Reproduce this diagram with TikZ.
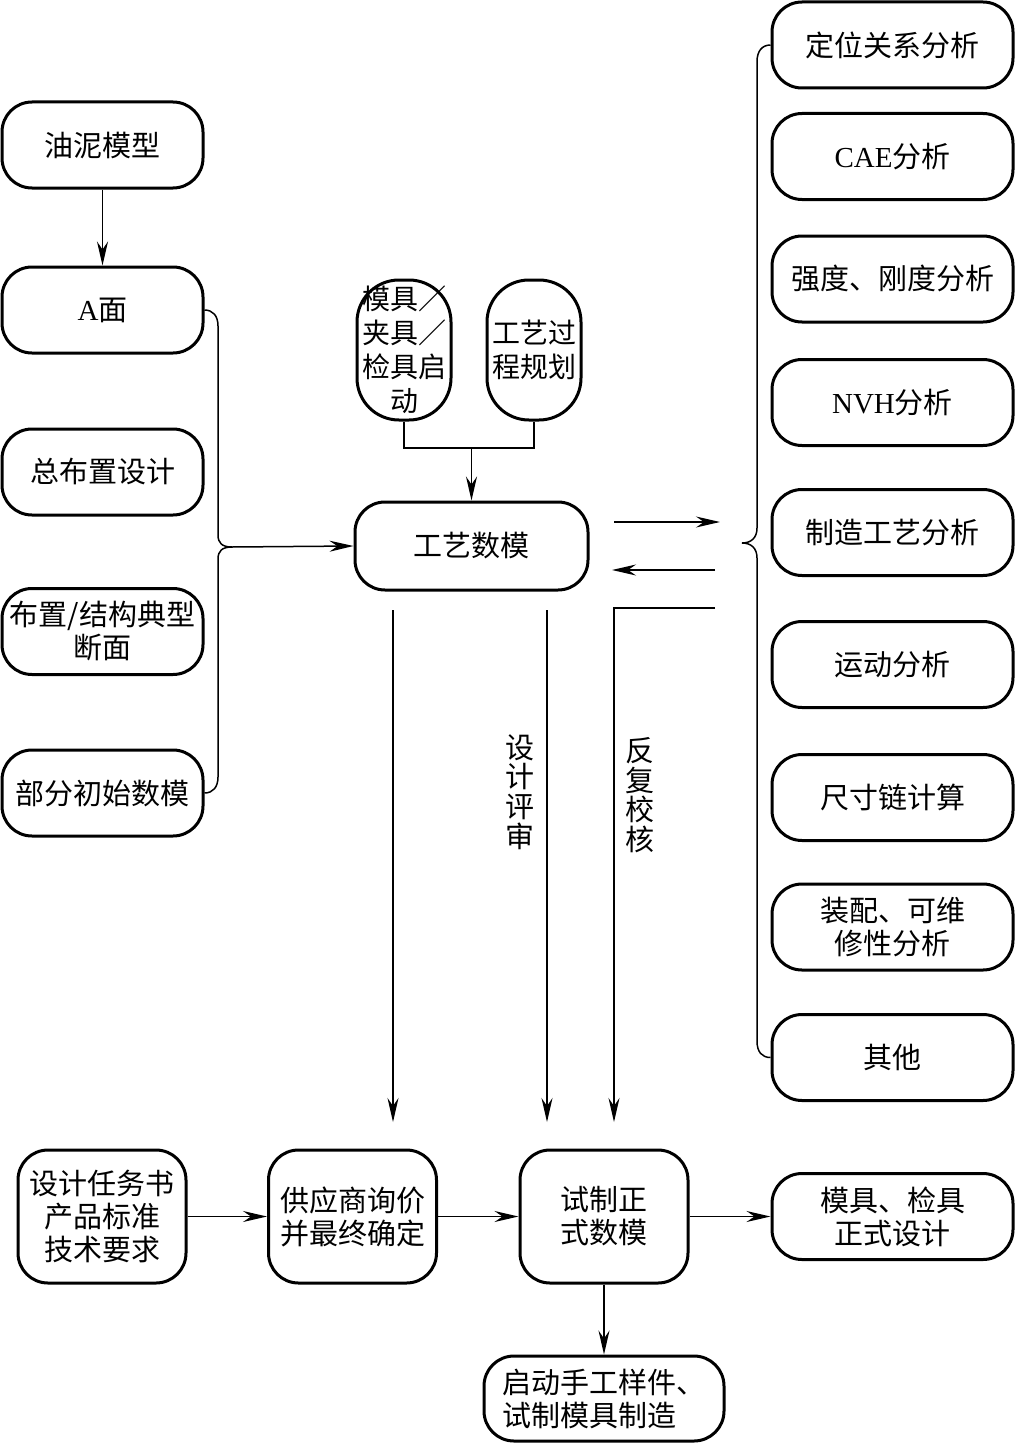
\documentclass[tikz,border=0pt]{standalone}
\usepackage{fontspec}
\setmainfont{Liberation Serif}
\newfontfamily\cjk{Noto Sans CJK SC}
\usetikzlibrary{arrows.meta}
\begin{document}
\begin{tikzpicture}[x=0.5pt,y=-0.5pt,
  box/.style={draw, line width=1.5pt, rounded corners=15pt, inner sep=0pt, align=center,
    font=\fontsize{14.5}{16.5}\selectfont\cjk},
  lbox/.style={box, minimum width=100.5pt, minimum height=43pt},
  rbox/.style={box, minimum width=120.5pt, minimum height=43pt},
  mbox/.style={box, minimum width=47pt, minimum height=70pt, rounded corners=21pt,
    font=\fontsize{14}{17}\selectfont\cjk},
  bbox/.style={box, minimum width=84pt, minimum height=66.5pt},
  vlab/.style={inner sep=0pt, align=center, font=\fontsize{14.5}{14.8}\selectfont\cjk},
  conn/.style={line width=0.75pt},
  arr/.style={conn, -{Stealth[length=12pt,width=5.5pt,inset=4pt]}}]
\useasboundingbox (0,0) rectangle (1015,1445);

% left column
\node[lbox] (L1) at (102.5,145) {油泥模型};
\node[lbox] (L2) at (102.5,310) {{\rmfamily A}面};
\node[lbox] (L3) at (102.5,472) {总布置设计};
\node[lbox] (L4) at (102.5,631.5) {布置/结构典型\\断面};
\node[lbox] (L5) at (102.5,793) {部分初始数模};

% right column
\node[rbox] (R1) at (892.5,45) {定位关系分析};
\node[rbox] (R2) at (892.5,156.5) {{\rmfamily CAE}分析};
\node[rbox] (R3) at (892.5,279) {强度、刚度分析};
\node[rbox] (R4) at (892.5,402.5) {{\rmfamily NVH}分析};
\node[rbox] (R5) at (892.5,532.5) {制造工艺分析};
\node[rbox] (R6) at (892.5,664.5) {运动分析};
\node[rbox] (R7) at (892.5,797.5) {尺寸链计算};
\node[rbox] (R8) at (892.5,927) {装配、可维\\修性分析};
\node[rbox] (R9) at (892.5,1057.5) {其他};

% middle
\node[mbox] (M1) at (404,350) {模具／\\夹具／\\检具启\\动};
\node[mbox] (M2) at (534,350) {工艺过\\程规划};
\node[box, minimum width=116.5pt, minimum height=44pt] (P) at (471.5,546) {工艺数模};

% bottom
\node[bbox] (B1) at (102,1216.5) {设计任务书\\产品标准\\技术要求};
\node[bbox] (B2) at (352.5,1216.5) {供应商询价\\并最终确定};
\node[bbox] (B3) at (604,1216.5) {试制正\\式数模};
\node[rbox] (B4) at (892.5,1216.5) {模具、检具\\正式设计};
\node[box, minimum width=120pt, minimum height=42.5pt, align=left] (B5) at (604,1398.5) {启动手工样件、\\试制模具制造};

% vertical labels
\node[vlab] (T1) at (520,792) {设\\计\\评\\审};
\node[vlab] (T2) at (640,795) {反\\复\\校\\核};

% left arrows and brace
\draw[arr] (L1) -- (L2);
\coordinate (lb) at (232,547);
\draw[conn] (L2.east) .. controls (213,310) and (218,316) .. (218,326) -- (218,535)
  .. controls (218,543) and (222,547) .. (lb);
\draw[conn] (L5.east) .. controls (213,793) and (218,787) .. (218,777) -- (218,559)
  .. controls (218,551) and (222,547) .. (lb);
\draw[arr] (lb) -- (P.west);

% top merge
\coordinate (mj) at (471.5,448);
\draw[conn] (M1.south) -- (404,448) -- (534,448) -- (M2.south);
\draw[arr] (mj) -- (P.north);

% right brace
\coordinate (rb) at (742,543);
\draw[conn] (rb) .. controls (751,543) and (757,538) .. (757,528) -- (757,62)
  .. controls (757,51) and (762,45) .. (R1.west);
\draw[conn] (rb) .. controls (751,543) and (757,548) .. (757,558) -- (757,1041)
  .. controls (757,1052) and (762,1057.5) .. (R9.west);

% middle arrows
\coordinate (a1s) at (614,522);
\coordinate (a1e) at (720,522);
\coordinate (a2s) at (715,570);
\coordinate (a2e) at (612,570);
\coordinate (a3s) at (715,608);
\coordinate (a3c) at (614,608);
\coordinate (a3e) at (614,1122);
\coordinate (d1s) at (393,610);
\coordinate (d1e) at (393,1122);
\coordinate (d2s) at (547,610);
\coordinate (d2e) at (547,1122);
\draw[arr] (a1s) -- (a1e);
\draw[arr] (a2s) -- (a2e);
\draw[arr] (a3s) -- (a3c) -- (a3e);
\draw[arr] (d1s) -- (d1e);
\draw[arr] (d2s) -- (d2e);

% bottom arrows
\draw[arr] (B1) -- (B2);
\draw[arr] (B2) -- (B3);
\draw[arr] (B3) -- (B4);
\draw[arr] (B3) -- (B5);
\end{tikzpicture}
\end{document}
